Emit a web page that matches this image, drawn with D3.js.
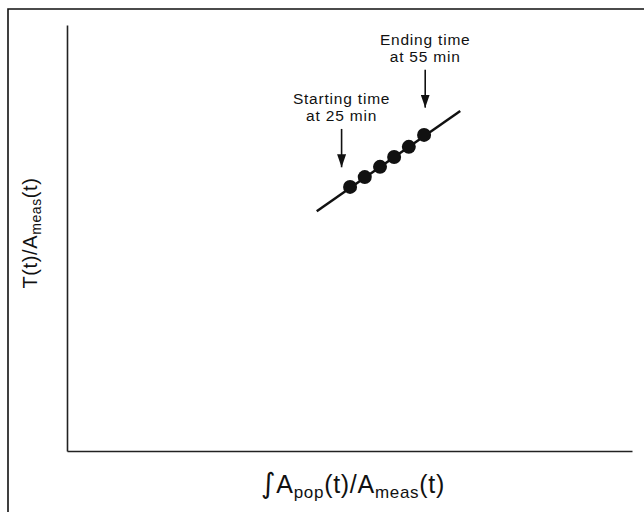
<!DOCTYPE html>
<html lang="en">
<head>
<meta charset="utf-8">
<title>Patlak plot</title>
<script src="https://cdn.jsdelivr.net/npm/d3@7"></script>
<style>
  body { margin: 0; background: #fff; }
  text { font-family: "Liberation Sans", Arial, sans-serif; fill: #111; }
  .axis path { stroke: #222; stroke-width: 1.6px; }
</style>
</head>
<body>
<svg width="644" height="512"></svg>
<script>
// sample points between start (25 min) and end (55 min), arbitrary units
var xVals = [50.1, 52.7, 55.4, 57.9, 60.5, 63.2];
var yVals = [62.0, 64.3, 66.7, 69.0, 71.4, 74.2];
// fitted line end points
var fitX = [44.2, 69.6];
var fitY = [56.3, 79.8];
// annotations: label lines, arrow x, arrow top/bottom y, first baseline y
var notes = [
  {lines: ["Starting time", "at 25 min"], x: 48.6, y0: 75.6, y1: 66.6, ty: 81.4},
  {lines: ["Ending time", "at 55 min"], x: 63.4, y0: 89.5, y1: 80.6, ty: 95.3}
];

var svg = d3.select("svg"), width = +svg.attr("width"), height = +svg.attr("height");
var margin = {left: 67, right: 12, top: 25, bottom: 61};

var x = d3.scaleLinear().domain([0, 100]).range([margin.left, width - margin.right]);
var y = d3.scaleLinear().domain([0, 100]).range([height - margin.bottom, margin.top]);

// outer frame (top and left only)
svg.append("path")
  .attr("d", "M8,512 V9 H644")
  .attr("fill", "none")
  .attr("stroke", "#111")
  .attr("stroke-width", 1.6);

svg.append("g")
  .attr("class", "axis")
  .attr("transform", "translate(0," + y(0) + ")")
  .call(d3.axisBottom(x).ticks(0).tickSizeOuter(0));

svg.append("g")
  .attr("class", "axis")
  .attr("transform", "translate(" + x(0) + ",0)")
  .call(d3.axisLeft(y).ticks(0).tickSizeOuter(0));

svg.append("defs").append("marker")
  .attr("id", "head")
  .attr("viewBox", "0 0 13 9")
  .attr("refX", 13).attr("refY", 4.5)
  .attr("markerWidth", 13).attr("markerHeight", 9)
  .attr("markerUnits", "userSpaceOnUse")
  .attr("orient", "auto")
  .append("path")
  .attr("d", "M0,0 L13,4.5 L0,9 Z")
  .attr("fill", "#111");

svg.append("line")
  .attr("x1", x(fitX[0])).attr("y1", y(fitY[0]))
  .attr("x2", x(fitX[1])).attr("y2", y(fitY[1]))
  .attr("stroke", "#111")
  .attr("stroke-width", 2.5);

svg.append("g").selectAll("circle")
  .data(xVals)
  .enter().append("circle")
  .attr("cx", function(d) { return x(d); })
  .attr("cy", function(d, i) { return y(yVals[i]); })
  .attr("r", 7)
  .attr("fill", "#111");

var note = svg.append("g").selectAll("g")
  .data(notes)
  .enter().append("g");

note.append("line")
  .attr("x1", function(d) { return x(d.x); })
  .attr("x2", function(d) { return x(d.x); })
  .attr("y1", function(d) { return y(d.y0); })
  .attr("y2", function(d) { return y(d.y1); })
  .attr("stroke", "#111")
  .attr("stroke-width", 1.6)
  .attr("marker-end", "url(#head)");

note.append("text")
  .attr("x", function(d) { return x(d.x); })
  .attr("y", function(d) { return y(d.ty); })
  .attr("text-anchor", "middle")
  .style("font-size", "15.5px")
  .style("letter-spacing", "0.8px")
  .selectAll("tspan")
  .data(function(d) { return d.lines.map(function(t) { return {t: t, x: x(d.x)}; }); })
  .enter().append("tspan")
  .attr("x", function(d) { return d.x; })
  .attr("dy", function(d, i) { return i ? 17 : 0; })
  .text(function(d) { return d.t; });

// axis titles
var xt = svg.append("text")
  .attr("x", 353).attr("y", 493)
  .attr("text-anchor", "middle")
  .style("font-size", "25px")
  .style("letter-spacing", "0.7px");
xt.append("tspan").text("∫").style("font-size", "28px").attr("font-family", "DejaVu Sans");
xt.append("tspan").text("A");
xt.append("tspan").text("pop").style("font-size", "17px").attr("dy", 5);
xt.append("tspan").text("(t)/A").attr("dy", -5);
xt.append("tspan").text("meas").style("font-size", "17px").attr("dy", 5);
xt.append("tspan").text("(t)").attr("dy", -5);

var yt = svg.append("text")
  .attr("transform", "translate(37,233) rotate(-90)")
  .attr("text-anchor", "middle")
  .style("font-size", "20px")
  .style("letter-spacing", "0.6px");
yt.append("tspan").text("T(t)/A");
yt.append("tspan").text("meas").style("font-size", "14px").attr("dy", 4);
yt.append("tspan").text("(t)").attr("dy", -4);
</script>
</body>
</html>
